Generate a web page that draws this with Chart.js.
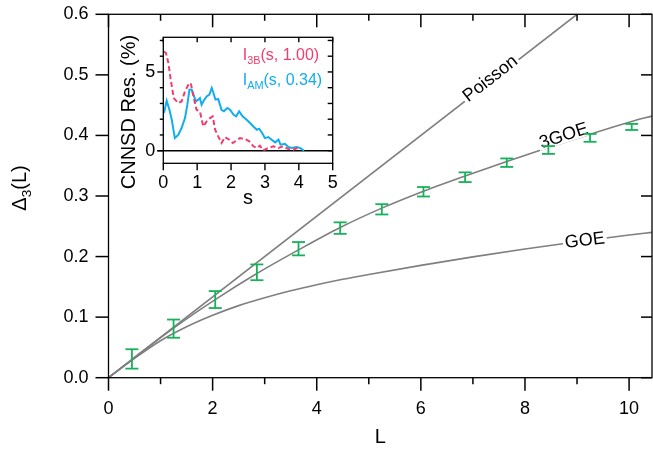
<!DOCTYPE html>
<html>
<head>
<meta charset="utf-8">
<script src="https://cdn.jsdelivr.net/npm/chart.js@4.4.1/dist/chart.umd.min.js"></script>
<style>
  body { margin: 0; background: #fff; }
  #wrap { position: relative; width: 653px; height: 453px; }
  #main { position: absolute; left: 0; top: 0; }
  #inset { position: absolute; left: 100px; top: 20px; }
</style>
</head>
<body>
<div id="wrap">
  <canvas id="main" width="653" height="453"></canvas>
  <canvas id="inset" width="250" height="195"></canvas>
</div>
<script>
var FONT = "'Liberation Sans', Arial, sans-serif";
var GREY = '#7f7f7f';
var GREEN = '#16b25a';
var PINK = '#f03c6e';
var BLUE = '#11adef';

// measured Delta_3(L) with error bars
var dataL = [0.45, 1.25, 2.05, 2.85, 3.65, 4.45, 5.25, 6.05, 6.85, 7.65, 8.45, 9.25, 10.05];
var dataD = [0.031, 0.081, 0.129, 0.174, 0.213, 0.247, 0.278, 0.307, 0.331, 0.355, 0.376, 0.396, 0.414];
var dataErr = [0.016, 0.015, 0.014, 0.013, 0.011, 0.0095, 0.0085, 0.0078, 0.008, 0.007, 0.0065, 0.0065, 0.005];

// theory curves
var poissonL = [0, 9];
var poissonD = [0, 0.6];
var goeL = [0, 0.5, 1.0, 1.5, 2.0, 2.5, 3.0, 3.5, 4.0, 4.5, 5.0, 6.0, 7.0, 8.0, 9.0, 10.0, 10.44];
var goeD = [0, 0.032, 0.061, 0.084, 0.103, 0.119, 0.132, 0.1435, 0.1535, 0.1625, 0.1705, 0.1855, 0.1995, 0.2125, 0.2245, 0.2355, 0.240];
var goe3L = [0, 0.45, 1.25, 2.05, 2.85, 3.65, 4.45, 5.25, 6.05, 6.85, 7.65, 8.45, 9.25, 10.05, 10.44];
var goe3D = [0, 0.030, 0.082, 0.129, 0.172, 0.211, 0.248, 0.280, 0.308, 0.333, 0.357, 0.380, 0.402, 0.423, 0.432];

var xTicks = [0, 2, 4, 6, 8, 10];
var xMinor = [1, 3, 5, 7, 9];
var yTicks = [0, 0.1, 0.2, 0.3, 0.4, 0.5, 0.6];

// inset: CNNSD residuals
var sPink = [0.02, 0.08, 0.15, 0.22, 0.31, 0.44, 0.54, 0.64, 0.74, 0.81, 0.89, 0.98, 1.08, 1.18, 1.28, 1.38, 1.46, 1.53, 1.62, 1.72, 1.82, 1.95, 2.05, 2.17, 2.26, 2.41, 2.54, 2.66, 2.76, 2.85, 2.95, 3.1, 3.25, 3.4, 3.54, 3.69, 3.84, 3.94, 4.04];
var resPink = [6.3, 6.2, 5.57, 4.5, 3.34, 3.03, 3.13, 3.77, 4.19, 4.3, 3.45, 2.6, 2.5, 1.54, 1.86, 2.07, 2.18, 1.33, 0.91, 0.49, 0.87, 0.7, 0.49, 0.66, 0.8, 0.74, 0.59, 0.28, 0.17, 0.32, 0.02, 0.17, 0.28, 0.17, 0.28, 0.1, 0.06, 0.17, 0.02];
var sBlue = [0.02, 0.1, 0.18, 0.25, 0.34, 0.44, 0.54, 0.64, 0.71, 0.77, 0.84, 0.89, 0.96, 1.03, 1.08, 1.13, 1.2, 1.28, 1.36, 1.43, 1.48, 1.54, 1.62, 1.72, 1.79, 1.89, 1.97, 2.07, 2.15, 2.24, 2.34, 2.46, 2.56, 2.66, 2.76, 2.83, 2.93, 3.0, 3.1, 3.2, 3.3, 3.4, 3.46, 3.59, 3.69, 3.79, 3.94, 4.06, 4.15];
var resBlue = [2.39, 3.17, 2.6, 1.97, 0.8, 1.0, 1.44, 2.07, 2.92, 3.87, 3.87, 3.56, 3.13, 3.24, 3.34, 2.92, 3.2, 3.45, 3.56, 3.98, 3.66, 3.24, 3.28, 2.6, 2.5, 2.71, 2.6, 2.29, 2.18, 2.5, 2.18, 1.97, 1.76, 1.54, 1.33, 1.4, 1.08, 0.8, 0.87, 0.7, 0.53, 0.7, 0.38, 0.44, 0.23, 0.17, 0.23, 0.15, 0];
var insetXTicks = [0, 1, 2, 3, 4, 5];
var insetYMinor = [0, 1, 2, 3, 4, 5, 6, 7];
var insetYLabels = [0, 5];

function pts(xs, ys) {
  return xs.map(function (x, i) { return { x: x, y: ys[i] }; });
}

// text with subscripts: parts = [[text, isSub], ...]
function richWidth(ctx, parts, size) {
  var w = 0;
  parts.forEach(function (p) {
    ctx.font = (p[1] ? size * 0.68 : size) + 'px ' + FONT;
    w += ctx.measureText(p[0]).width;
  });
  return w;
}
function richText(ctx, parts, x, y, size) {
  ctx.textBaseline = 'alphabetic';
  ctx.textAlign = 'left';
  parts.forEach(function (p) {
    ctx.font = (p[1] ? size * 0.68 : size) + 'px ' + FONT;
    ctx.fillText(p[0], x, p[1] ? y + size * 0.25 : y);
    x += ctx.measureText(p[0]).width;
  });
}

function line(ctx, x1, y1, x2, y2) {
  ctx.beginPath(); ctx.moveTo(x1, y1); ctx.lineTo(x2, y2); ctx.stroke();
}

var mainDecor = {
  id: 'mainDecor',
  afterDatasetsDraw: function (chart) {
    var ctx = chart.ctx, xs = chart.scales.x, ys = chart.scales.y;
    ctx.save();
    // curve labels, on a white patch that breaks the line
    var labels = [
      { text: 'Poisson', L: 7.36, D: 0.4907, ang: -37.8, off: -2 },
      { text: '3GOE', L: 8.78, D: 0.3895, ang: -18, off: -6 },
      { text: 'GOE', L: 9.15, D: 0.2262, ang: -7, off: 0 }
    ];
    ctx.font = '18px ' + FONT;
    labels.forEach(function (lb) {
      var px = xs.getPixelForValue(lb.L), py = ys.getPixelForValue(lb.D);
      ctx.save();
      ctx.translate(px, py);
      ctx.rotate(lb.ang * Math.PI / 180);
      ctx.translate(0, lb.off);
      var w = ctx.measureText(lb.text).width;
      ctx.fillStyle = '#fff';
      ctx.fillRect(-w / 2 - 2, -8, w + 4, 15);
      ctx.fillStyle = '#000';
      ctx.textAlign = 'center';
      ctx.textBaseline = 'middle';
      ctx.fillText(lb.text, 0, 0);
      ctx.restore();
    });
    // error bars
    ctx.strokeStyle = GREEN;
    ctx.lineWidth = 1.8;
    dataL.forEach(function (L, i) {
      var px = xs.getPixelForValue(L);
      var t = ys.getPixelForValue(dataD[i] + dataErr[i]);
      var b = ys.getPixelForValue(dataD[i] - dataErr[i]);
      line(ctx, px, t, px, b);
      line(ctx, px - 6.5, t, px + 6.5, t);
      line(ctx, px - 6.5, b, px + 6.5, b);
    });
    ctx.restore();
  },
  afterDraw: function (chart) {
    var ctx = chart.ctx, ca = chart.chartArea, xs = chart.scales.x, ys = chart.scales.y;
    ctx.save();
    ctx.strokeStyle = '#000';
    ctx.lineWidth = 1.3;
    ctx.strokeRect(ca.left, ca.top, ca.right - ca.left, ca.bottom - ca.top);
    ctx.lineWidth = 1.5;
    ctx.fillStyle = '#000';
    ctx.font = '18px ' + FONT;
    ctx.textAlign = 'center';
    ctx.textBaseline = 'middle';
    xTicks.forEach(function (v) {
      var px = xs.getPixelForValue(v);
      line(ctx, px, ca.bottom, px, ca.bottom + 13);
      line(ctx, px, ca.top, px, ca.top + 13);
      ctx.fillText(String(v), px, ca.bottom + 31);
    });
    xMinor.forEach(function (v) {
      var px = xs.getPixelForValue(v);
      line(ctx, px, ca.bottom, px, ca.bottom + 6.5);
      line(ctx, px, ca.top, px, ca.top + 6.5);
    });
    ctx.textAlign = 'right';
    yTicks.forEach(function (v) {
      var py = ys.getPixelForValue(v);
      line(ctx, ca.left - 13, py, ca.left, py);
      line(ctx, ca.right - 11, py, ca.right, py);
      ctx.fillText(v.toFixed(1), ca.left - 20, py);
    });
    // axis titles
    ctx.font = '20px ' + FONT;
    ctx.textAlign = 'center';
    ctx.fillText('L', (ca.left + ca.right) / 2, 437);
    var parts = [['\u0394', false], ['3', true], ['(L)', false]];
    var w = richWidth(ctx, parts, 20);
    ctx.translate(26, 188);
    ctx.rotate(-Math.PI / 2);
    richText(ctx, parts, -w / 2, 0, 20);
    ctx.restore();
  }
};

new Chart(document.getElementById('main'), {
  type: 'scatter',
  data: {
    datasets: [
      { label: 'Poisson', data: pts(poissonL, poissonD), showLine: true, borderColor: GREY, borderWidth: 1.6, pointRadius: 0 },
      { label: '3GOE', data: pts(goe3L, goe3D), showLine: true, cubicInterpolationMode: 'monotone', borderColor: GREY, borderWidth: 1.6, pointRadius: 0 },
      { label: 'GOE', data: pts(goeL, goeD), showLine: true, cubicInterpolationMode: 'monotone', borderColor: GREY, borderWidth: 1.6, pointRadius: 0 },
      { label: 'data', data: pts(dataL, dataD), showLine: false, pointRadius: 0, borderColor: GREEN }
    ]
  },
  options: {
    responsive: false,
    animation: false,
    devicePixelRatio: 1,
    layout: { padding: { top: 14.3, right: 1, left: 108.5, bottom: 75.3 } },
    plugins: { legend: { display: false }, tooltip: { enabled: false } },
    scales: {
      x: { type: 'linear', display: false, min: 0, max: 10.44 },
      y: { type: 'linear', display: false, min: 0, max: 0.6 }
    }
  },
  plugins: [mainDecor]
});

var insetDecor = {
  id: 'insetDecor',
  beforeDatasetsDraw: function (chart) {
    var ctx = chart.ctx, ca = chart.chartArea, ys = chart.scales.y;
    ctx.save();
    ctx.strokeStyle = '#000';
    ctx.lineWidth = 1.4;
    var y0 = ys.getPixelForValue(0);
    line(ctx, ca.left - 6, y0, ca.right, y0);
    ctx.restore();
  },
  afterDraw: function (chart) {
    var ctx = chart.ctx, ca = chart.chartArea, xs = chart.scales.x, ys = chart.scales.y;
    ctx.save();
    ctx.strokeStyle = '#000';
    ctx.lineWidth = 1.3;
    ctx.strokeRect(ca.left, ca.top, ca.right - ca.left, ca.bottom - ca.top);
    ctx.lineWidth = 1.4;
    ctx.fillStyle = '#000';
    ctx.font = '18px ' + FONT;
    ctx.textAlign = 'center';
    ctx.textBaseline = 'middle';
    insetXTicks.forEach(function (v) {
      var px = xs.getPixelForValue(v);
      line(ctx, px, ca.bottom, px, ca.bottom + 7);
      line(ctx, px, ca.top, px, ca.top + 5);
      ctx.fillText(String(v), px, ca.bottom + 20);
    });
    insetYMinor.forEach(function (v) {
      var py = ys.getPixelForValue(v);
      var big = insetYLabels.indexOf(v) >= 0;
      line(ctx, ca.left - (big ? 6 : 3.5), py, ca.left, py);
      line(ctx, ca.right - 5, py, ca.right, py);
    });
    ctx.textAlign = 'right';
    insetYLabels.forEach(function (v) {
      ctx.fillText(String(v), ca.left - 8, ys.getPixelForValue(v));
    });
    ctx.textAlign = 'center';
    ctx.font = '20px ' + FONT;
    ctx.fillText('s', (ca.left + ca.right) / 2, 178);
    ctx.save();
    ctx.translate(29, 92);
    ctx.rotate(-Math.PI / 2);
    ctx.fillText('CNNSD Res. (%)', 0, 0);
    ctx.restore();
    // legend
    ctx.fillStyle = PINK;
    richText(ctx, [['I', false], ['3B', true], ['(s, 1.00)', false]], 142.7, 40, 16);
    ctx.fillStyle = BLUE;
    richText(ctx, [['I', false], ['AM', true], ['(s, 0.34)', false]], 142.7, 65, 16);
    ctx.restore();
  }
};

new Chart(document.getElementById('inset'), {
  type: 'scatter',
  data: {
    datasets: [
      { label: 'I3B', data: pts(sPink, resPink), showLine: true, borderColor: PINK, borderWidth: 2, borderDash: [5, 3], pointRadius: 0 },
      { label: 'IAM', data: pts(sBlue, resBlue), showLine: true, borderColor: BLUE, borderWidth: 2, pointRadius: 0 }
    ]
  },
  options: {
    responsive: false,
    animation: false,
    devicePixelRatio: 1,
    layout: { padding: { left: 63.3, right: 17.3, top: 17.3, bottom: 51.7 } },
    plugins: { legend: { display: false }, tooltip: { enabled: false } },
    scales: {
      x: { type: 'linear', display: false, min: 0, max: 5 },
      y: { type: 'linear', display: false, min: -0.8, max: 7.2 }
    }
  },
  plugins: [insetDecor]
});
</script>
</body>
</html>
